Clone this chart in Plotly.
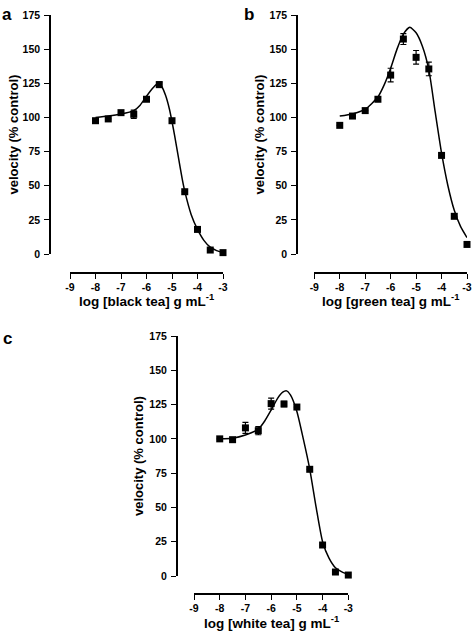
import plotly.graph_objects as go

# ---- data ----
x_doses = [-8, -7.5, -7, -6.5, -6, -5.5, -5, -4.5, -4, -3.5, -3]

black_y = [97.6, 98.9, 103.5, 102.3, 113.3, 124.0, 97.6, 45.6, 18.0, 2.9, 1.0]
black_err = [0, 0, 0, 3, 0, 2, 0, 0, 0, 0, 0]
black_fit_x = [-8, -7.5, -7, -6.5, -6.25, -6, -5.75, -5.55, -5.4, -5.25, -5.1, -5, -4.9, -4.75, -4.6, -4.5, -4.25, -4, -3.75, -3.5, -3.25, -3]
black_fit_y = [100, 101, 102.5, 105, 109, 115.5, 121.5, 125, 122.5, 116, 106, 97, 87, 71, 55, 46, 29, 18, 10, 5, 2.5, 1]

green_y = [94.2, 101.0, 105.0, 113.3, 131.0, 157.4, 144.0, 135.5, 72.2, 27.6, 7.0]
green_err = [0, 0, 0, 0, 5, 4, 5, 5, 0, 0, 0]
green_fit_x = [-8, -7.5, -7, -6.5, -6.25, -6, -5.75, -5.5, -5.25, -5, -4.75, -4.5, -4.25, -4, -3.75, -3.5, -3.25, -3]
green_fit_y = [101, 102.5, 106, 115, 124, 136, 150, 161, 166, 162, 152, 135, 104, 74, 50, 32, 20, 12]

white_y = [100.0, 99.4, 108.0, 106.0, 125.7, 125.4, 123.2, 77.8, 22.6, 2.9, 0.7]
white_err = [0, 0, 4, 3, 4, 2, 0, 0, 0, 0, 0]
white_fit_x = [-8, -7.5, -7, -6.5, -6.25, -6, -5.75, -5.55, -5.4, -5.25, -5, -4.75, -4.5, -4.25, -4, -3.75, -3.5, -3.25, -3]
white_fit_y = [100, 100.5, 102.8, 107, 113, 121, 129.5, 134, 135, 132, 120, 100, 78, 50, 25, 13, 6, 3, 1]

x_tickvals = [-9, -8, -7, -6, -5, -4, -3]
x_ticktext = ["-9", "-8", "-7", "-6", "-5", "-4", "-3"]
y_tickvals = [0, 25, 50, 75, 100, 125, 150, 175]

panel_labels = ["a", "b", "c"]
x_titles = ["log [black tea] g mL<sup>-1</sup>",
            "log [green tea] g mL<sup>-1</sup>",
            "log [white tea] g mL<sup>-1</sup>"]
y_title = "velocity (% control)"

W, H = 474, 638
FONT = "Liberation Sans, Arial, sans-serif"


def px(v):
    return v / W


def py(v):
    return 1 - v / H


# geometry per panel (pixels)
panels = [
    dict(yax=50, x0=70, x1=223, yt=15, yb=254, xl=273, lab=(7, 14), ytx=13, xtt=300),
    dict(yax=297, x0=314.3, x1=467, yt=15, yb=254, xl=273, lab=(249, 15), ytx=259, xtt=300),
    dict(yax=176.7, x0=194, x1=348.3, yt=336, yb=576, xl=594, lab=(7, 338), ytx=139, xtt=622),
]

series = [
    (black_y, black_err, black_fit_x, black_fit_y),
    (green_y, green_err, green_fit_x, green_fit_y),
    (white_y, white_err, white_fit_x, white_fit_y),
]

fig = go.Figure()
annotations = []
layout = {}

for i, (p, (ys, errs, fx, fy)) in enumerate(zip(panels, series)):
    n = "" if i == 0 else str(i + 1)
    xa, ya = "x" + n, "y" + n
    fig.add_trace(go.Scatter(
        x=fx, y=fy, mode="lines", line=dict(color="black", width=1.5, shape="spline", smoothing=0.6),
        xaxis=xa, yaxis=ya, cliponaxis=False, showlegend=False, hoverinfo="skip"))
    fig.add_trace(go.Scatter(
        x=x_doses, y=ys, mode="markers",
        marker=dict(symbol="square", size=7, color="black"),
        error_y=dict(type="data", array=errs, visible=True, color="black", thickness=1.2, width=3),
        xaxis=xa, yaxis=ya, cliponaxis=False, showlegend=False))

    layout["xaxis" + n] = dict(
        domain=[px(p["x0"]), px(p["x1"])], range=[-9, -3], anchor="free",
        position=py(p["xl"]), showgrid=False, zeroline=False, automargin=False,
        showline=True, linecolor="black", linewidth=1.5,
        ticks="outside", ticklen=5, tickwidth=1.3, tickcolor="black",
        tickvals=x_tickvals, ticktext=x_ticktext,
        tickfont=dict(family=FONT, size=10.5, color="black", weight="bold"),
    )
    layout["yaxis" + n] = dict(
        domain=[py(p["yb"]), py(p["yt"])], range=[0, 175], anchor="free",
        position=px(p["yax"]), showgrid=False, zeroline=False, automargin=False,
        showline=True, linecolor="black", linewidth=1.5,
        ticks="outside", ticklen=5, tickwidth=1.3, tickcolor="black",
        tickvals=y_tickvals, ticklabelstandoff=2,
        tickfont=dict(family=FONT, size=10.5, color="black", weight="bold"),
    )
    annotations.append(dict(
        text=panel_labels[i], x=px(p["lab"][0]), y=py(p["lab"][1]), xref="paper", yref="paper",
        showarrow=False, xanchor="center", yanchor="middle",
        font=dict(family=FONT, size=17, color="black", weight="bold")))
    annotations.append(dict(
        text=y_title, x=px(p["ytx"]), y=py((p["yt"] + p["yb"]) / 2), xref="paper", yref="paper",
        showarrow=False, textangle=-90, xanchor="center", yanchor="middle",
        font=dict(family=FONT, size=13, color="black", weight="bold")))
    annotations.append(dict(
        text=x_titles[i], x=px((p["x0"] + p["x1"]) / 2), y=py(p["xtt"]), xref="paper", yref="paper",
        showarrow=False, xanchor="center", yanchor="middle",
        font=dict(family=FONT, size=13.5, color="black", weight="bold")))

fig.update_layout(
    template="none",
    width=W, height=H, margin=dict(l=0, r=0, t=0, b=0, autoexpand=False),
    paper_bgcolor="white", plot_bgcolor="white",
    annotations=annotations, **layout)

fig.write_html("out.html", config={"displayModeBar": False},
               post_script="document.body.style.margin='0';document.body.style.overflow='hidden';")
